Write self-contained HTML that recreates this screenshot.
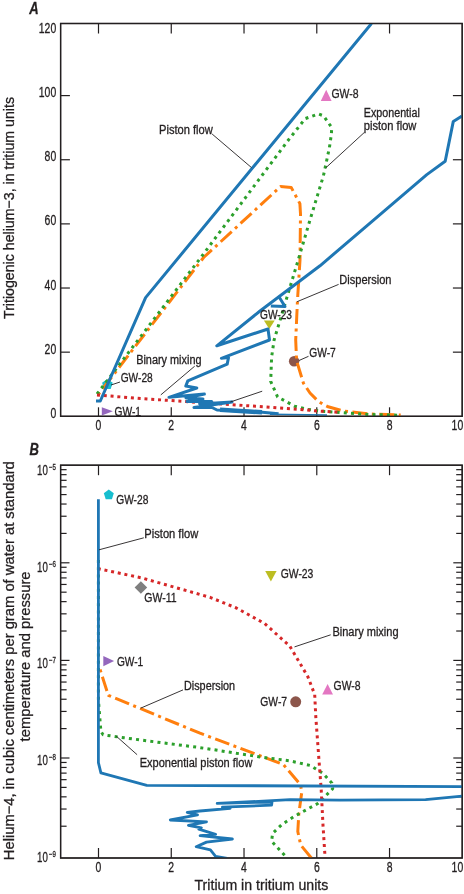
<!DOCTYPE html>
<html><head><meta charset="utf-8">
<style>
html,body{margin:0;padding:0;background:#fff;}
svg{display:block;}
text{font-family:"Liberation Sans", sans-serif; fill:#231f20; stroke:#231f20; stroke-width:0.3px;}
</style></head><body>
<svg style="will-change:transform" width="464" height="894" viewBox="0 0 464 894">
<defs>
<clipPath id="clipA"><rect x="60.6" y="23.5" width="401.59999999999997" height="392.8"/></clipPath>
<clipPath id="clipB"><rect x="60.6" y="465.2" width="401.59999999999997" height="392.8"/></clipPath>
</defs>
<rect width="464" height="894" fill="#fff"/>
<rect x="60.6" y="23.5" width="401.59999999999997" height="392.8" fill="none" stroke="#231f20" stroke-width="1.3"/>
<line x1="98.5" y1="23.5" x2="98.5" y2="33.5" stroke="#231f20" stroke-width="1.2"/>
<line x1="98.5" y1="416.3" x2="98.5" y2="407.3" stroke="#231f20" stroke-width="1.2"/>
<line x1="171.26" y1="23.5" x2="171.26" y2="33.5" stroke="#231f20" stroke-width="1.2"/>
<line x1="171.26" y1="416.3" x2="171.26" y2="407.3" stroke="#231f20" stroke-width="1.2"/>
<line x1="244.02" y1="23.5" x2="244.02" y2="33.5" stroke="#231f20" stroke-width="1.2"/>
<line x1="244.02" y1="416.3" x2="244.02" y2="407.3" stroke="#231f20" stroke-width="1.2"/>
<line x1="316.78000000000003" y1="23.5" x2="316.78000000000003" y2="33.5" stroke="#231f20" stroke-width="1.2"/>
<line x1="316.78000000000003" y1="416.3" x2="316.78000000000003" y2="407.3" stroke="#231f20" stroke-width="1.2"/>
<line x1="389.54" y1="23.5" x2="389.54" y2="33.5" stroke="#231f20" stroke-width="1.2"/>
<line x1="389.54" y1="416.3" x2="389.54" y2="407.3" stroke="#231f20" stroke-width="1.2"/>
<line x1="60.6" y1="352.16" x2="69.9" y2="352.16" stroke="#231f20" stroke-width="1.2"/>
<line x1="462.2" y1="352.16" x2="452.9" y2="352.16" stroke="#231f20" stroke-width="1.2"/>
<line x1="60.6" y1="288.02" x2="69.9" y2="288.02" stroke="#231f20" stroke-width="1.2"/>
<line x1="462.2" y1="288.02" x2="452.9" y2="288.02" stroke="#231f20" stroke-width="1.2"/>
<line x1="60.6" y1="223.88000000000002" x2="69.9" y2="223.88000000000002" stroke="#231f20" stroke-width="1.2"/>
<line x1="462.2" y1="223.88000000000002" x2="452.9" y2="223.88000000000002" stroke="#231f20" stroke-width="1.2"/>
<line x1="60.6" y1="159.74" x2="69.9" y2="159.74" stroke="#231f20" stroke-width="1.2"/>
<line x1="462.2" y1="159.74" x2="452.9" y2="159.74" stroke="#231f20" stroke-width="1.2"/>
<line x1="60.6" y1="95.60000000000002" x2="69.9" y2="95.60000000000002" stroke="#231f20" stroke-width="1.2"/>
<line x1="462.2" y1="95.60000000000002" x2="452.9" y2="95.60000000000002" stroke="#231f20" stroke-width="1.2"/>
<text x="56.2" y="33.06000000000004" font-size="14.0" text-anchor="end" textLength="17.4" lengthAdjust="spacingAndGlyphs" >120</text>
<text x="56.2" y="97.20000000000002" font-size="14.0" text-anchor="end" textLength="17.4" lengthAdjust="spacingAndGlyphs" >100</text>
<text x="56.2" y="161.34" font-size="14.0" text-anchor="end" textLength="11.6" lengthAdjust="spacingAndGlyphs" >80</text>
<text x="56.2" y="225.48000000000002" font-size="14.0" text-anchor="end" textLength="11.6" lengthAdjust="spacingAndGlyphs" >60</text>
<text x="56.2" y="289.62" font-size="14.0" text-anchor="end" textLength="11.6" lengthAdjust="spacingAndGlyphs" >40</text>
<text x="56.2" y="353.76000000000005" font-size="14.0" text-anchor="end" textLength="11.6" lengthAdjust="spacingAndGlyphs" >20</text>
<text x="56.2" y="417.90000000000003" font-size="14.0" text-anchor="end" textLength="5.8" lengthAdjust="spacingAndGlyphs" >0</text>
<text x="98.5" y="430.2" font-size="14.0" text-anchor="middle" textLength="5.8" lengthAdjust="spacingAndGlyphs" >0</text>
<text x="171.26" y="430.2" font-size="14.0" text-anchor="middle" textLength="5.8" lengthAdjust="spacingAndGlyphs" >2</text>
<text x="244.02" y="430.2" font-size="14.0" text-anchor="middle" textLength="5.8" lengthAdjust="spacingAndGlyphs" >4</text>
<text x="316.78000000000003" y="430.2" font-size="14.0" text-anchor="middle" textLength="5.8" lengthAdjust="spacingAndGlyphs" >6</text>
<text x="389.54" y="430.2" font-size="14.0" text-anchor="middle" textLength="5.8" lengthAdjust="spacingAndGlyphs" >8</text>
<text x="451.6" y="430.2" font-size="14.0" text-anchor="start" textLength="11.6" lengthAdjust="spacingAndGlyphs" >10</text>
<rect x="60.6" y="465.2" width="401.59999999999997" height="392.8" fill="none" stroke="#231f20" stroke-width="1.3"/>
<line x1="98.5" y1="465.2" x2="98.5" y2="475.2" stroke="#231f20" stroke-width="1.2"/>
<line x1="98.5" y1="858.0" x2="98.5" y2="848.0" stroke="#231f20" stroke-width="1.2"/>
<line x1="171.26" y1="465.2" x2="171.26" y2="475.2" stroke="#231f20" stroke-width="1.2"/>
<line x1="171.26" y1="858.0" x2="171.26" y2="848.0" stroke="#231f20" stroke-width="1.2"/>
<line x1="244.02" y1="465.2" x2="244.02" y2="475.2" stroke="#231f20" stroke-width="1.2"/>
<line x1="244.02" y1="858.0" x2="244.02" y2="848.0" stroke="#231f20" stroke-width="1.2"/>
<line x1="316.78000000000003" y1="465.2" x2="316.78000000000003" y2="475.2" stroke="#231f20" stroke-width="1.2"/>
<line x1="316.78000000000003" y1="858.0" x2="316.78000000000003" y2="848.0" stroke="#231f20" stroke-width="1.2"/>
<line x1="389.54" y1="465.2" x2="389.54" y2="475.2" stroke="#231f20" stroke-width="1.2"/>
<line x1="389.54" y1="858.0" x2="389.54" y2="848.0" stroke="#231f20" stroke-width="1.2"/>
<line x1="60.6" y1="562.8" x2="69.5" y2="562.8" stroke="#231f20" stroke-width="1.2"/>
<line x1="462.2" y1="562.8" x2="453.3" y2="562.8" stroke="#231f20" stroke-width="1.2"/>
<line x1="60.6" y1="533.4194724231954" x2="66.6" y2="533.4194724231954" stroke="#231f20" stroke-width="1.2"/>
<line x1="462.2" y1="533.4194724231954" x2="456.2" y2="533.4194724231954" stroke="#231f20" stroke-width="1.2"/>
<line x1="60.6" y1="516.232965539361" x2="66.6" y2="516.232965539361" stroke="#231f20" stroke-width="1.2"/>
<line x1="462.2" y1="516.232965539361" x2="456.2" y2="516.232965539361" stroke="#231f20" stroke-width="1.2"/>
<line x1="60.6" y1="504.03894484639085" x2="66.6" y2="504.03894484639085" stroke="#231f20" stroke-width="1.2"/>
<line x1="462.2" y1="504.03894484639085" x2="456.2" y2="504.03894484639085" stroke="#231f20" stroke-width="1.2"/>
<line x1="60.6" y1="494.58052757680457" x2="66.6" y2="494.58052757680457" stroke="#231f20" stroke-width="1.2"/>
<line x1="462.2" y1="494.58052757680457" x2="456.2" y2="494.58052757680457" stroke="#231f20" stroke-width="1.2"/>
<line x1="60.6" y1="486.85243796255634" x2="66.6" y2="486.85243796255634" stroke="#231f20" stroke-width="1.2"/>
<line x1="462.2" y1="486.85243796255634" x2="456.2" y2="486.85243796255634" stroke="#231f20" stroke-width="1.2"/>
<line x1="60.6" y1="480.3184312946085" x2="66.6" y2="480.3184312946085" stroke="#231f20" stroke-width="1.2"/>
<line x1="462.2" y1="480.3184312946085" x2="456.2" y2="480.3184312946085" stroke="#231f20" stroke-width="1.2"/>
<line x1="60.6" y1="474.65841726958627" x2="66.6" y2="474.65841726958627" stroke="#231f20" stroke-width="1.2"/>
<line x1="462.2" y1="474.65841726958627" x2="456.2" y2="474.65841726958627" stroke="#231f20" stroke-width="1.2"/>
<line x1="60.6" y1="469.6659310787218" x2="66.6" y2="469.6659310787218" stroke="#231f20" stroke-width="1.2"/>
<line x1="462.2" y1="469.6659310787218" x2="456.2" y2="469.6659310787218" stroke="#231f20" stroke-width="1.2"/>
<line x1="60.6" y1="660.4" x2="69.5" y2="660.4" stroke="#231f20" stroke-width="1.2"/>
<line x1="462.2" y1="660.4" x2="453.3" y2="660.4" stroke="#231f20" stroke-width="1.2"/>
<line x1="60.6" y1="631.0194724231953" x2="66.6" y2="631.0194724231953" stroke="#231f20" stroke-width="1.2"/>
<line x1="462.2" y1="631.0194724231953" x2="456.2" y2="631.0194724231953" stroke="#231f20" stroke-width="1.2"/>
<line x1="60.6" y1="613.8329655393609" x2="66.6" y2="613.8329655393609" stroke="#231f20" stroke-width="1.2"/>
<line x1="462.2" y1="613.8329655393609" x2="456.2" y2="613.8329655393609" stroke="#231f20" stroke-width="1.2"/>
<line x1="60.6" y1="601.6389448463908" x2="66.6" y2="601.6389448463908" stroke="#231f20" stroke-width="1.2"/>
<line x1="462.2" y1="601.6389448463908" x2="456.2" y2="601.6389448463908" stroke="#231f20" stroke-width="1.2"/>
<line x1="60.6" y1="592.1805275768046" x2="66.6" y2="592.1805275768046" stroke="#231f20" stroke-width="1.2"/>
<line x1="462.2" y1="592.1805275768046" x2="456.2" y2="592.1805275768046" stroke="#231f20" stroke-width="1.2"/>
<line x1="60.6" y1="584.4524379625564" x2="66.6" y2="584.4524379625564" stroke="#231f20" stroke-width="1.2"/>
<line x1="462.2" y1="584.4524379625564" x2="456.2" y2="584.4524379625564" stroke="#231f20" stroke-width="1.2"/>
<line x1="60.6" y1="577.9184312946085" x2="66.6" y2="577.9184312946085" stroke="#231f20" stroke-width="1.2"/>
<line x1="462.2" y1="577.9184312946085" x2="456.2" y2="577.9184312946085" stroke="#231f20" stroke-width="1.2"/>
<line x1="60.6" y1="572.2584172695863" x2="66.6" y2="572.2584172695863" stroke="#231f20" stroke-width="1.2"/>
<line x1="462.2" y1="572.2584172695863" x2="456.2" y2="572.2584172695863" stroke="#231f20" stroke-width="1.2"/>
<line x1="60.6" y1="567.2659310787219" x2="66.6" y2="567.2659310787219" stroke="#231f20" stroke-width="1.2"/>
<line x1="462.2" y1="567.2659310787219" x2="456.2" y2="567.2659310787219" stroke="#231f20" stroke-width="1.2"/>
<line x1="60.6" y1="758.0" x2="69.5" y2="758.0" stroke="#231f20" stroke-width="1.2"/>
<line x1="462.2" y1="758.0" x2="453.3" y2="758.0" stroke="#231f20" stroke-width="1.2"/>
<line x1="60.6" y1="728.6194724231955" x2="66.6" y2="728.6194724231955" stroke="#231f20" stroke-width="1.2"/>
<line x1="462.2" y1="728.6194724231955" x2="456.2" y2="728.6194724231955" stroke="#231f20" stroke-width="1.2"/>
<line x1="60.6" y1="711.4329655393609" x2="66.6" y2="711.4329655393609" stroke="#231f20" stroke-width="1.2"/>
<line x1="462.2" y1="711.4329655393609" x2="456.2" y2="711.4329655393609" stroke="#231f20" stroke-width="1.2"/>
<line x1="60.6" y1="699.2389448463908" x2="66.6" y2="699.2389448463908" stroke="#231f20" stroke-width="1.2"/>
<line x1="462.2" y1="699.2389448463908" x2="456.2" y2="699.2389448463908" stroke="#231f20" stroke-width="1.2"/>
<line x1="60.6" y1="689.7805275768046" x2="66.6" y2="689.7805275768046" stroke="#231f20" stroke-width="1.2"/>
<line x1="462.2" y1="689.7805275768046" x2="456.2" y2="689.7805275768046" stroke="#231f20" stroke-width="1.2"/>
<line x1="60.6" y1="682.0524379625563" x2="66.6" y2="682.0524379625563" stroke="#231f20" stroke-width="1.2"/>
<line x1="462.2" y1="682.0524379625563" x2="456.2" y2="682.0524379625563" stroke="#231f20" stroke-width="1.2"/>
<line x1="60.6" y1="675.5184312946085" x2="66.6" y2="675.5184312946085" stroke="#231f20" stroke-width="1.2"/>
<line x1="462.2" y1="675.5184312946085" x2="456.2" y2="675.5184312946085" stroke="#231f20" stroke-width="1.2"/>
<line x1="60.6" y1="669.8584172695862" x2="66.6" y2="669.8584172695862" stroke="#231f20" stroke-width="1.2"/>
<line x1="462.2" y1="669.8584172695862" x2="456.2" y2="669.8584172695862" stroke="#231f20" stroke-width="1.2"/>
<line x1="60.6" y1="664.8659310787218" x2="66.6" y2="664.8659310787218" stroke="#231f20" stroke-width="1.2"/>
<line x1="462.2" y1="664.8659310787218" x2="456.2" y2="664.8659310787218" stroke="#231f20" stroke-width="1.2"/>
<line x1="60.6" y1="826.2194724231954" x2="66.6" y2="826.2194724231954" stroke="#231f20" stroke-width="1.2"/>
<line x1="462.2" y1="826.2194724231954" x2="456.2" y2="826.2194724231954" stroke="#231f20" stroke-width="1.2"/>
<line x1="60.6" y1="809.0329655393609" x2="66.6" y2="809.0329655393609" stroke="#231f20" stroke-width="1.2"/>
<line x1="462.2" y1="809.0329655393609" x2="456.2" y2="809.0329655393609" stroke="#231f20" stroke-width="1.2"/>
<line x1="60.6" y1="796.8389448463909" x2="66.6" y2="796.8389448463909" stroke="#231f20" stroke-width="1.2"/>
<line x1="462.2" y1="796.8389448463909" x2="456.2" y2="796.8389448463909" stroke="#231f20" stroke-width="1.2"/>
<line x1="60.6" y1="787.3805275768045" x2="66.6" y2="787.3805275768045" stroke="#231f20" stroke-width="1.2"/>
<line x1="462.2" y1="787.3805275768045" x2="456.2" y2="787.3805275768045" stroke="#231f20" stroke-width="1.2"/>
<line x1="60.6" y1="779.6524379625564" x2="66.6" y2="779.6524379625564" stroke="#231f20" stroke-width="1.2"/>
<line x1="462.2" y1="779.6524379625564" x2="456.2" y2="779.6524379625564" stroke="#231f20" stroke-width="1.2"/>
<line x1="60.6" y1="773.1184312946085" x2="66.6" y2="773.1184312946085" stroke="#231f20" stroke-width="1.2"/>
<line x1="462.2" y1="773.1184312946085" x2="456.2" y2="773.1184312946085" stroke="#231f20" stroke-width="1.2"/>
<line x1="60.6" y1="767.4584172695863" x2="66.6" y2="767.4584172695863" stroke="#231f20" stroke-width="1.2"/>
<line x1="462.2" y1="767.4584172695863" x2="456.2" y2="767.4584172695863" stroke="#231f20" stroke-width="1.2"/>
<line x1="60.6" y1="762.4659310787218" x2="66.6" y2="762.4659310787218" stroke="#231f20" stroke-width="1.2"/>
<line x1="462.2" y1="762.4659310787218" x2="456.2" y2="762.4659310787218" stroke="#231f20" stroke-width="1.2"/>
<text x="47.8" y="474.8" font-size="14.0" text-anchor="end" textLength="10.8" lengthAdjust="spacingAndGlyphs" >10</text>
<text x="48.9" y="469.8" font-size="8.5" text-anchor="start" textLength="7.0" lengthAdjust="spacingAndGlyphs" >−5</text>
<text x="47.8" y="571.5" font-size="14.0" text-anchor="end" textLength="10.8" lengthAdjust="spacingAndGlyphs" >10</text>
<text x="48.9" y="566.5" font-size="8.5" text-anchor="start" textLength="7.0" lengthAdjust="spacingAndGlyphs" >−6</text>
<text x="47.8" y="668.2" font-size="14.0" text-anchor="end" textLength="10.8" lengthAdjust="spacingAndGlyphs" >10</text>
<text x="48.9" y="663.2" font-size="8.5" text-anchor="start" textLength="7.0" lengthAdjust="spacingAndGlyphs" >−7</text>
<text x="47.8" y="765.0" font-size="14.0" text-anchor="end" textLength="10.8" lengthAdjust="spacingAndGlyphs" >10</text>
<text x="48.9" y="760.0" font-size="8.5" text-anchor="start" textLength="7.0" lengthAdjust="spacingAndGlyphs" >−8</text>
<text x="47.8" y="861.9" font-size="14.0" text-anchor="end" textLength="10.8" lengthAdjust="spacingAndGlyphs" >10</text>
<text x="48.9" y="856.9" font-size="8.5" text-anchor="start" textLength="7.0" lengthAdjust="spacingAndGlyphs" >−9</text>
<text x="98.5" y="871.7" font-size="14.0" text-anchor="middle" textLength="5.8" lengthAdjust="spacingAndGlyphs" >0</text>
<text x="171.26" y="871.7" font-size="14.0" text-anchor="middle" textLength="5.8" lengthAdjust="spacingAndGlyphs" >2</text>
<text x="244.02" y="871.7" font-size="14.0" text-anchor="middle" textLength="5.8" lengthAdjust="spacingAndGlyphs" >4</text>
<text x="316.78000000000003" y="871.7" font-size="14.0" text-anchor="middle" textLength="5.8" lengthAdjust="spacingAndGlyphs" >6</text>
<text x="389.54" y="871.7" font-size="14.0" text-anchor="middle" textLength="5.8" lengthAdjust="spacingAndGlyphs" >8</text>
<text x="451.6" y="871.7" font-size="14.0" text-anchor="start" textLength="11.6" lengthAdjust="spacingAndGlyphs" >10</text>
<text x="29.2" y="13.8" font-size="16" text-anchor="start" textLength="9.4" lengthAdjust="spacingAndGlyphs" font-weight="bold" font-style="italic">A</text>
<text x="29.6" y="455.4" font-size="16" text-anchor="start" textLength="9.4" lengthAdjust="spacingAndGlyphs" font-weight="bold" font-style="italic">B</text>
<text transform="translate(13.9,319) rotate(-90)" font-size="15" textLength="222" lengthAdjust="spacingAndGlyphs">Tritiogenic helium−3, in tritium units</text>
<text transform="translate(13.6,860.2) rotate(-90)" font-size="15" textLength="399" lengthAdjust="spacingAndGlyphs">Helium−4, in cubic centimeters per gram of water at standard</text>
<text transform="translate(29.9,741.4) rotate(-90)" font-size="15" textLength="170" lengthAdjust="spacingAndGlyphs">temperature and pressure</text>
<text x="194.5" y="890.0" font-size="14.5" text-anchor="start" textLength="133.8" lengthAdjust="spacingAndGlyphs" >Tritium in tritium units</text>
<polygon points="326.2,89.7 320.8,100.9 331.6,100.9" fill="#e377c2"/>
<polygon points="263.9,320.4 274.7,320.4 269.3,328.9" fill="#bcbd22"/>
<circle cx="294.1" cy="361.3" r="5.2" fill="#8c564b"/>
<polygon points="107.4,378.9 112.7,382.8 110.7,389.0 104.1,389.0 102.1,382.8" fill="#17becf"/>
<polygon points="101.8,407.2 112.8,411.3 101.8,415.4" fill="#9467bd"/>
<g clip-path="url(#clipA)">
<polyline points="97.5,395.5 203.6,257.5 280.5,186.6 291.2,187.4 299.9,203.6 300.5,214.0 300.0,260.0 297.5,300.0 295.7,340.0 296.6,360.7 303.4,383.1 310.0,393.0 317.9,401.0 323.0,404.2 328.2,406.8 343.0,411.0 370.5,414.0 400.7,415.0" fill="none" stroke="#ff7f0e" stroke-width="3" stroke-linecap="butt" stroke-linejoin="round" stroke-dasharray="15 4.5 3 4.5" stroke-dashoffset="18.7"/>
<polyline points="97.0,394.0 200.7,257.7 288.4,140.0 296.9,129.2 305.2,118.6 312.0,116.2 318.3,113.9 323.6,115.9 327.5,121.5 331.7,127.5 331.4,134.1 329.4,147.7 323.4,175.9 310.0,220.0 298.2,260.0 274.1,340.0 271.6,357.2 270.7,381.4 277.6,396.9 294.6,406.2 307.5,409.4 321.7,411.3 340.0,412.5 370.0,414.5 399.0,415.2" fill="none" stroke="#2ca02c" stroke-width="3" stroke-linecap="butt" stroke-linejoin="round" stroke-dasharray="3 4.2" />
<polyline points="97.0,395.0 140.6,398.5 200.0,402.5 237.0,405.0 299.0,409.3 318.0,411.0 340.0,412.3" fill="none" stroke="#d62728" stroke-width="3" stroke-linecap="butt" stroke-linejoin="round" stroke-dasharray="3 3.8" />
<polyline points="96.0,401.0 100.3,401.0 145.6,297.6 371.5,23.5" fill="none" stroke="#1f77b4" stroke-width="3" stroke-linecap="butt" stroke-linejoin="round" />
<polyline points="462.0,116.0 453.3,121.4 445.2,161.3 426.8,174.6 380.0,214.6 320.0,265.8 260.0,311.0 216.8,345.8 268.0,329.0 269.5,340.0 221.4,358.3 228.5,357.6 227.2,364.1 187.8,380.9 185.8,386.1 196.8,388.0 169.0,397.3 204.4,394.1 186.0,398.0 203.0,399.0 187.0,401.5 211.7,401.6 199.7,404.0 232.0,402.0 194.0,407.5 212.0,407.5 217.0,410.0 254.0,411.5 278.6,413.8" fill="none" stroke="#1f77b4" stroke-width="3" stroke-linecap="butt" stroke-linejoin="round" />
<polyline points="270.0,414.2 327.0,415.0" fill="none" stroke="#1f77b4" stroke-width="1.6" stroke-linecap="butt" stroke-linejoin="round" />
<polyline points="278.5,296.0 285.0,306.5 270.8,305.9" fill="none" stroke="#1f77b4" stroke-width="3" stroke-linecap="butt" stroke-linejoin="round" />
<polyline points="220.0,409.8 262.0,412.3" fill="none" stroke="#1f77b4" stroke-width="4.5" stroke-linecap="butt" stroke-linejoin="round" />
<polyline points="188.0,399.8 202.0,400.6" fill="none" stroke="#1f77b4" stroke-width="4.5" stroke-linecap="butt" stroke-linejoin="round" />
</g>
<line x1="212.1" y1="134" x2="251.5" y2="167.6" stroke="#231f20" stroke-width="0.9"/>
<line x1="325.6" y1="168" x2="364.4" y2="132.4" stroke="#231f20" stroke-width="0.9"/>
<line x1="297.1" y1="301.7" x2="338.6" y2="284.4" stroke="#231f20" stroke-width="0.9"/>
<line x1="160.8" y1="394.9" x2="194.7" y2="366.2" stroke="#231f20" stroke-width="0.9"/>
<line x1="230.3" y1="402" x2="262.2" y2="391.2" stroke="#231f20" stroke-width="0.9"/>
<line x1="111" y1="385" x2="120" y2="382" stroke="#231f20" stroke-width="0.9"/>
<line x1="299" y1="360.5" x2="308.5" y2="356.3" stroke="#231f20" stroke-width="0.9"/>
<text x="159" y="133.5" font-size="12" text-anchor="start" textLength="53.8" lengthAdjust="spacingAndGlyphs" >Piston flow</text>
<text x="363.8" y="116.6" font-size="12" text-anchor="start" textLength="56" lengthAdjust="spacingAndGlyphs" >Exponential</text>
<text x="363.8" y="130.3" font-size="12" text-anchor="start" textLength="52.6" lengthAdjust="spacingAndGlyphs" >piston flow</text>
<text x="339.3" y="284.4" font-size="12" text-anchor="start" textLength="52.2" lengthAdjust="spacingAndGlyphs" >Dispersion</text>
<text x="136.2" y="363.8" font-size="12" text-anchor="start" textLength="65.3" lengthAdjust="spacingAndGlyphs" >Binary mixing</text>
<text x="120.7" y="381.8" font-size="12" text-anchor="start" textLength="32" lengthAdjust="spacingAndGlyphs" >GW-28</text>
<text x="114.5" y="415.6" font-size="12" text-anchor="start" textLength="26.5" lengthAdjust="spacingAndGlyphs" >GW-1</text>
<text x="276" y="318.8" font-size="12" text-anchor="middle" textLength="32" lengthAdjust="spacingAndGlyphs" >GW-23</text>
<text x="309.3" y="356.8" font-size="12" text-anchor="start" textLength="26.5" lengthAdjust="spacingAndGlyphs" >GW-7</text>
<text x="331.4" y="98.2" font-size="12" text-anchor="start" textLength="27.1" lengthAdjust="spacingAndGlyphs" >GW-8</text>
<g clip-path="url(#clipB)">
<polyline points="99.7,668.3 108.3,695.3 200.0,733.2 283.3,764.5 300.7,784.9 301.7,792.7 298.8,814.0 297.8,831.5 300.7,845.0 311.4,858.0" fill="none" stroke="#ff7f0e" stroke-width="3" stroke-linecap="butt" stroke-linejoin="round" stroke-dasharray="15 4.5 3 4.5" stroke-dashoffset="18.2"/>
<polyline points="98.4,560.0 98.4,700.0 100.9,731.4 103.1,734.8 124.2,737.8 144.5,740.5 200.0,747.6 262.5,757.3 289.0,760.7 310.4,765.5 323.0,773.4 331.8,783.0 332.7,788.8 318.2,803.3 294.9,816.0 281.8,824.5 272.6,833.4 271.6,841.2 286.2,857.0" fill="none" stroke="#2ca02c" stroke-width="3" stroke-linecap="butt" stroke-linejoin="round" stroke-dasharray="3 4.2" />
<polyline points="97.8,568.6 141.7,577.9 210.0,597.3 236.4,608.0 264.4,623.4 289.6,645.8 307.8,676.6 314.7,694.5 315.8,717.0 318.5,753.7 321.2,789.5 323.0,825.3 325.1,858.0" fill="none" stroke="#d62728" stroke-width="3" stroke-linecap="butt" stroke-linejoin="round" stroke-dasharray="3 3.8" />
<polyline points="98.4,499.3 98.4,762.6 100.9,772.8 146.8,785.3 462.0,786.6" fill="none" stroke="#1f77b4" stroke-width="2.8" stroke-linecap="butt" stroke-linejoin="round" />
<polyline points="462.0,796.1 425.6,799.6 340.0,800.1 290.0,799.7 217.2,803.4 272.0,802.0 271.6,805.2 222.4,807.2 230.2,808.4 200.0,811.0 187.2,812.3 197.5,814.9 170.3,820.0 206.5,821.9 188.4,825.3 201.4,827.8 198.8,829.1 215.6,834.3 200.1,835.6 232.4,839.0 206.5,842.1 196.2,846.7 210.4,849.8 215.6,856.3 227.2,858.5" fill="none" stroke="#1f77b4" stroke-width="2.8" stroke-linecap="butt" stroke-linejoin="round" />
</g>
<line x1="99" y1="549.8" x2="143.8" y2="537.8" stroke="#231f20" stroke-width="0.9"/>
<line x1="140.6" y1="708.2" x2="183" y2="689.9" stroke="#231f20" stroke-width="0.9"/>
<line x1="116.3" y1="736.2" x2="137.1" y2="754.7" stroke="#231f20" stroke-width="0.9"/>
<line x1="294.5" y1="646.9" x2="330.7" y2="634.8" stroke="#231f20" stroke-width="0.9"/>
<polygon points="108.8,489.6 113.8,493.3 111.9,499.2 105.7,499.2 103.8,493.3" fill="#17becf"/>
<polygon points="140.9,581.2 147.20000000000002,587.5 140.9,593.8 134.6,587.5" fill="#7f7f7f"/>
<polygon points="265.2,571.0 276.6,571.0 270.9,581.4" fill="#bcbd22"/>
<polygon points="103.3,656.0 114.1,661.1 103.3,666.2" fill="#9467bd"/>
<circle cx="295.7" cy="701.8" r="5.5" fill="#8c564b"/>
<polygon points="327.6,684.1 322.2,694.5 333.0,694.5" fill="#e377c2"/>
<text x="116.2" y="503.8" font-size="12" text-anchor="start" textLength="32.2" lengthAdjust="spacingAndGlyphs" >GW-28</text>
<text x="144.3" y="537.7" font-size="12" text-anchor="start" textLength="53.9" lengthAdjust="spacingAndGlyphs" >Piston flow</text>
<text x="144.3" y="601.7" font-size="12" text-anchor="start" textLength="32.3" lengthAdjust="spacingAndGlyphs" >GW-11</text>
<text x="280.7" y="578.0" font-size="12" text-anchor="start" textLength="32.7" lengthAdjust="spacingAndGlyphs" >GW-23</text>
<text x="332.4" y="635.9" font-size="12" text-anchor="start" textLength="66.2" lengthAdjust="spacingAndGlyphs" >Binary mixing</text>
<text x="116.9" y="666.0" font-size="12" text-anchor="start" textLength="26.3" lengthAdjust="spacingAndGlyphs" >GW-1</text>
<text x="184" y="689.8" font-size="12" text-anchor="start" textLength="51.1" lengthAdjust="spacingAndGlyphs" >Dispersion</text>
<text x="260.3" y="705.9" font-size="12" text-anchor="start" textLength="26.8" lengthAdjust="spacingAndGlyphs" >GW-7</text>
<text x="333.6" y="689.6" font-size="12" text-anchor="start" textLength="27" lengthAdjust="spacingAndGlyphs" >GW-8</text>
<text x="139.7" y="767.0" font-size="12" text-anchor="start" textLength="112.7" lengthAdjust="spacingAndGlyphs" >Exponential piston flow</text>
<rect x="60.6" y="23.5" width="401.59999999999997" height="392.8" fill="none" stroke="#231f20" stroke-width="1.3"/>
<rect x="60.6" y="465.2" width="401.59999999999997" height="392.8" fill="none" stroke="#231f20" stroke-width="1.3"/>
</svg>
</body></html>
